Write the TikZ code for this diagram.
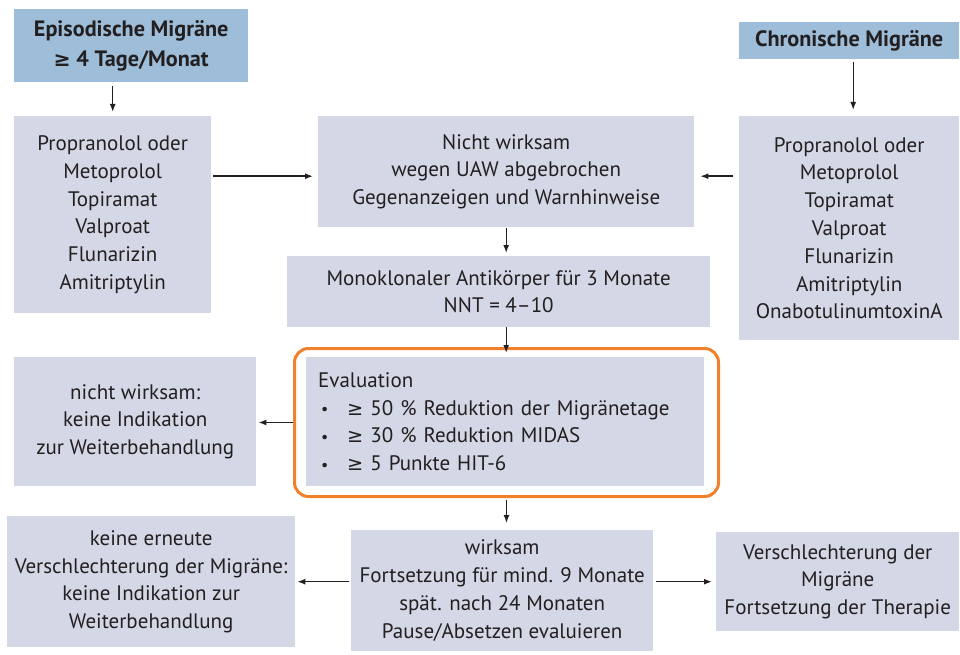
\documentclass[tikz,border=0pt]{standalone}
\usepackage{fontspec}
\setmainfont{PT Sans}
\newfontfamily\symf[Scale=0.92]{DejaVu Sans}
\newcommand\gesym{{\symf ≥}}
\newcommand\smallbul{\raisebox{0.5pt}{\fontsize{16}{16}\selectfont •}}
\usetikzlibrary{arrows.meta,calc}
\definecolor{boxfill}{HTML}{D3D7E6}
\definecolor{headfill}{HTML}{9DBDD8}
\definecolor{orangeframe}{HTML}{F0802A}
\definecolor{txt}{HTML}{231F20}
\begin{document}
\begin{tikzpicture}[x=1pt,y=-1pt,
  box/.style={fill=boxfill, text=txt, inner sep=0pt, anchor=north west, align=center,
    font=\fontsize{21}{27.8}\selectfont},
  head/.style={box, fill=headfill, font=\fontsize{22.2}{30}\selectfont\bfseries},
  arr/.style={draw=txt, line width=1.4pt, -{Latex[length=8pt,width=6pt]}},
  frm/.style={draw=orangeframe, line width=3pt, rounded corners=14pt, inner sep=0pt, anchor=north west}
]
\useasboundingbox (0,0) rectangle (960,655);

\node[head, minimum width=234pt, minimum height=73pt] (epi) at (14,9)
  {Episodische Migräne\\\gesym{} 4 Tage/Monat};
\node[head, minimum width=220pt, minimum height=37pt] (chron) at (739,22)
  {Chronische Migräne};

\node[box, minimum width=197pt, minimum height=197pt] (leftlist) at (14,116)
  {Propranolol oder\\Metoprolol\\Topiramat\\Valproat\\Flunarizin\\Amitriptylin};
\node[box, minimum width=376pt, minimum height=111pt] (mid) at (318,116)
  {Nicht wirksam\\wegen UAW abgebrochen\\Gegenanzeigen und Warnhinweise};
\node[box, minimum width=220pt, minimum height=224pt] (rightlist) at (739,116)
  {Propranolol oder\\Metoprolol\\Topiramat\\Valproat\\Flunarizin\\Amitriptylin\\OnabotulinumtoxinA};
\node[box, minimum width=423pt, minimum height=71pt] (mono) at (287,256)
  {Monoklonaler Antikörper für 3 Monate\\NNT = 4–10};

\node[frm, minimum width=424pt, minimum height=148pt] (frame) at (293,347) {};
\node[box, align=left, text width=374pt, inner xsep=12pt, minimum height=129pt] (evalbox) at (306,357)
  {Evaluation\\
   \hspace*{3pt}\makebox[26pt][l]{\smallbul}\gesym{} 50 \% Reduktion der Migränetage\\
   \hspace*{3pt}\makebox[26pt][l]{\smallbul}\gesym{} 30 \% Reduktion MIDAS\\
   \hspace*{3pt}\makebox[26pt][l]{\smallbul}\gesym{} 5 Punkte HIT-6};
\node[box, minimum width=242pt, minimum height=129pt] (nw) at (14,357)
  {nicht wirksam:\\keine Indikation\\zur Weiterbehandlung};

\node[box, minimum width=288pt, minimum height=131pt] (keine) at (7,516)
  {keine erneute\\Verschlechterung der Migräne:\\keine Indikation zur\\Weiterbehandlung};
\node[box, minimum width=302pt, minimum height=121pt] (wirk) at (351,530)
  {wirksam\\Fortsetzung für mind. 9 Monate\\spät. nach 24 Monaten\\Pause/Absetzen evaluieren};
\node[box, minimum width=243pt, minimum height=99pt] (versch) at (716,532)
  {Verschlechterung der\\Migräne\\Fortsetzung der Therapie};

\coordinate (midL) at ([yshift=-4.5pt]mid.west);
\coordinate (midR) at ([yshift=-4.5pt]mid.east);
\coordinate (chS) at ([xshift=4pt]chron.south);
\coordinate (rlN) at ([xshift=4pt]rightlist.north);

\draw[arr, shorten <=4pt, shorten >=4pt] (epi.south -| leftlist.north) -- (leftlist.north);
\draw[arr, shorten <=3pt, shorten >=6pt] (chS) -- (rlN);
\draw[arr, shorten <=2pt, shorten >=5pt] (leftlist.east |- midL) -- (midL);
\draw[arr, shorten <=6pt, shorten >=6pt] (rightlist.west |- midR) -- (midR);
\draw[arr, shorten <=1pt, shorten >=3pt] (mid.south) -- (mid.south |- mono.north);
\draw[arr, shorten <=0pt, shorten >=4pt] (mid.south |- mono.south) -- (mid.south |- evalbox.north);
\draw[arr, shorten <=0pt, shorten >=2pt] (frame.west) -- (frame.west -| nw.east);
\draw[arr, shorten <=1.5pt, shorten >=7pt] (frame.south) -- (frame.south |- wirk.north);
\draw[arr, shorten <=2pt, shorten >=2pt] (wirk.west |- keine.east) -- (keine.east);
\draw[arr, shorten <=3pt, shorten >=4pt] (wirk.east |- versch.west) -- (versch.west);
\end{tikzpicture}
\end{document}
